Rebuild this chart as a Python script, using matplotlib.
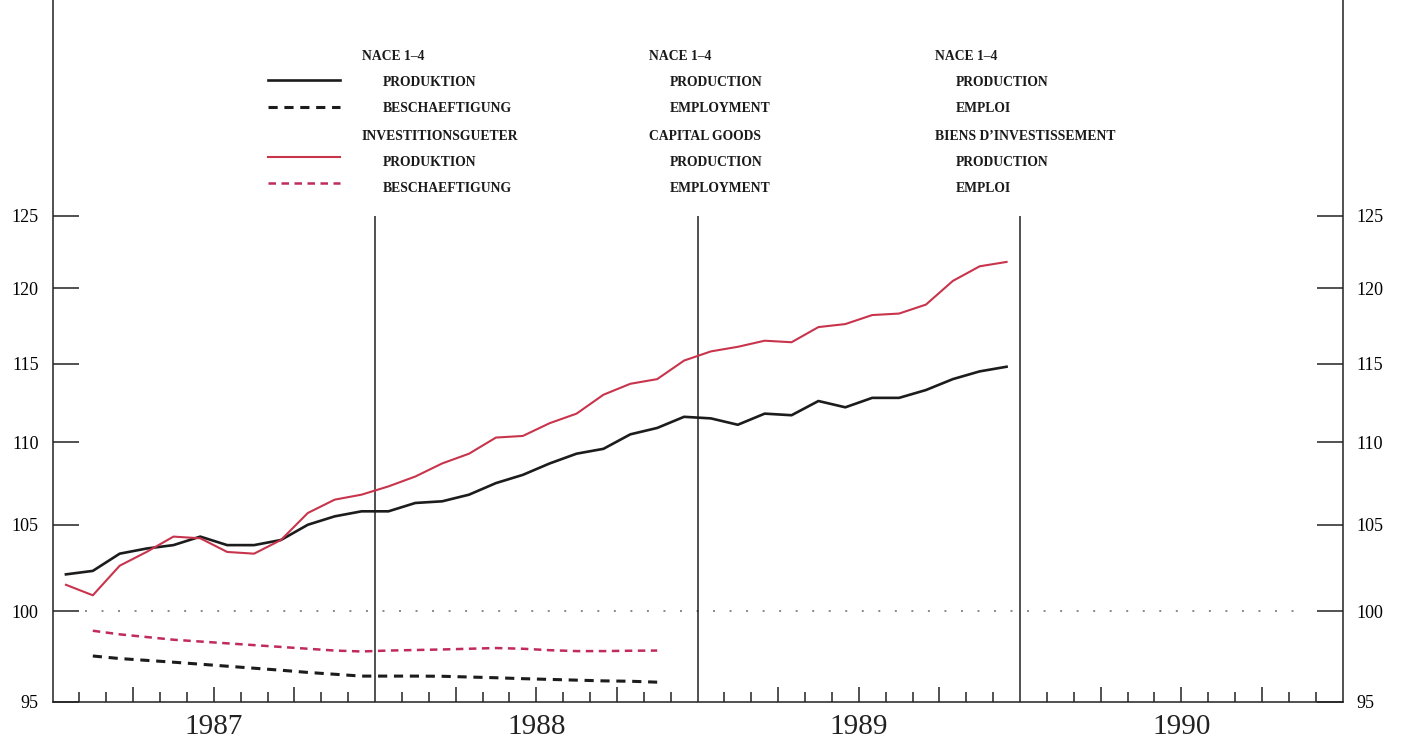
import numpy as np
import matplotlib
matplotlib.use('Agg')
import matplotlib.pyplot as plt
from matplotlib import font_manager
from matplotlib.ticker import FixedLocator, NullFormatter

# monthly indices, Jan 1987 = 0
prod_nace = [102.1, 102.3, 103.3, 103.6, 103.8, 104.3, 103.8, 103.8, 104.1, 105.0, 105.5, 105.8,
             105.8, 106.3, 106.4, 106.8, 107.5, 108.0, 108.7, 109.3, 109.6, 110.5, 110.9, 111.6,
             111.5, 111.1, 111.8, 111.7, 112.6, 112.2, 112.8, 112.8, 113.3, 114.0, 114.5, 114.8]
prod_cap = [101.5, 100.9, 102.6, 103.4, 104.3, 104.2, 103.4, 103.3, 104.1, 105.7, 106.5, 106.8,
            107.3, 107.9, 108.7, 109.3, 110.3, 110.4, 111.2, 111.8, 113.0, 113.7, 114.0, 115.2,
            115.8, 116.1, 116.5, 116.4, 117.4, 117.6, 118.2, 118.3, 118.9, 120.5, 121.5, 121.8]
# employment starts Feb 1987
emp_nace = [97.5, 97.36, 97.26, 97.16, 97.05, 96.94, 96.83, 96.72, 96.6, 96.5, 96.4,
            96.4, 96.4, 96.39, 96.35, 96.31, 96.26, 96.22, 96.18, 96.14, 96.12, 96.07]
emp_cap = [98.9, 98.7, 98.55, 98.4, 98.3, 98.2, 98.1, 98.0, 97.9, 97.8, 97.75,
           97.8, 97.83, 97.86, 97.9, 97.94, 97.9, 97.82, 97.77, 97.77, 97.79, 97.8]

years = ['1987', '1988', '1989', '1990']
yticks = [95, 100, 105, 110, 115, 120, 125]

col_de = ['NACE 1–4', 'PRODUKTION', 'BESCHAEFTIGUNG', 'INVESTITIONSGUETER', 'PRODUKTION', 'BESCHAEFTIGUNG']
col_en = ['NACE 1–4', 'PRODUCTION', 'EMPLOYMENT', 'CAPITAL GOODS', 'PRODUCTION', 'EMPLOYMENT']
col_fr = ['NACE 1–4', 'PRODUCTION', 'EMPLOI', 'BIENS D’INVESTISSEMENT', 'PRODUCTION', 'EMPLOI']

BLACK = '#1c1c1c'
RED = '#c8344c'
RED_D = '#c02a5c'

# legend font: condensed serif if we have one
cond = [f for f in font_manager.fontManager.ttflist
        if f.name == 'DejaVu Serif' and f.stretch == 'condensed' and f.weight == 'bold']
if cond:
    legend_font = dict(family='DejaVu Serif', stretch='condensed', fontsize=10, fontweight='bold')
else:
    legend_font = dict(family='Liberation Serif', fontsize=9.8, fontweight='bold')

W, H = 1402, 740
fig = plt.figure(figsize=(W / 100, H / 100), dpi=100)
ax = fig.add_axes([52.5 / W, 38 / H, 1290 / W, 702 / H])

ax.set_yscale('log')
ax.set_xlim(0, 48)
top = 125 * np.exp(216 / 486 * np.log(125 / 95))
ax.set_ylim(95, top)

x_prod = np.arange(len(prod_nace)) + 0.5
x_emp = np.arange(len(emp_nace)) + 1.5

ax.plot(x_prod, prod_nace, color=BLACK, lw=1.9, zorder=5)
ax.plot(x_prod, prod_cap, color=RED, lw=1.5, zorder=5)
ax.plot(x_emp, emp_nace, color=BLACK, lw=2.2, ls=(0, (3, 2.2)), zorder=5)
ax.plot(x_emp, emp_cap, color=RED_D, lw=1.8, ls=(0, (3, 2.2)), zorder=5)

# reference line at 100 and year boundaries
ax.hlines(100, 1.2, 46.7, color='#888888', lw=1.4, ls=(0, (1, 7.5)))
ax.vlines([12, 24, 36], 95, 125, color='#222222', lw=1.1)

# axes frame
ax.spines['top'].set_visible(False)
for s in ['left', 'right', 'bottom']:
    ax.spines[s].set_linewidth(1.1)
    ax.spines[s].set_color('#222222')

ax.yaxis.set_major_locator(FixedLocator(yticks))
ax.yaxis.set_minor_locator(FixedLocator([]))
ax.yaxis.set_minor_formatter(NullFormatter())
ax.set_yticklabels([str(v) for v in yticks])
ax.tick_params(axis='y', which='major', direction='in', length=19, width=1.1,
               left=True, right=True, labelleft=True, labelright=True, pad=10,
               labelsize=13, color='#222222')
for lab in ax.get_yticklabels():
    lab.set_family('Liberation Serif')

quarters = [q for q in range(3, 48, 3) if q % 12 != 0]
months = [m for m in range(1, 48) if m % 3 != 0]
ax.xaxis.set_major_locator(FixedLocator(quarters))
ax.xaxis.set_minor_locator(FixedLocator(months))
ax.xaxis.set_major_formatter(NullFormatter())
ax.tick_params(axis='x', which='major', direction='in', length=11, width=1.1, color='#222222')
ax.tick_params(axis='x', which='minor', direction='in', length=7, width=1.1, color='#222222')

for i, yr in enumerate(years):
    ax.text(12 * i + 6, -0.036, yr, transform=ax.get_xaxis_transform(), ha='center', va='center',
            fontsize=21, family='Liberation Serif', color='#222222')

# legend block
def px(x, y):
    return x / W, 1 - y / H

samples = [(80, BLACK, 1.9, '-'), (107, BLACK, 2.2, (0, (3, 2.2))),
           (157, RED, 1.5, '-'), (183, RED_D, 1.8, (0, (3, 2.2)))]
for yy, c, lw, ls in samples:
    x0, y0 = px(268, yy)
    x1, _ = px(340, yy)
    fig.add_artist(plt.Line2D([x0, x1], [y0, y0], color=c, lw=lw, ls=ls, transform=fig.transFigure))

rows_y = [57, 83, 109, 136, 162, 188]
for col, xh in zip([col_de, col_en, col_fr], [362, 649, 935]):
    for j, (txt, yy) in enumerate(zip(col, rows_y)):
        xx = xh if j in (0, 3) else xh + 21
        fx, fy = px(xx, yy)
        fig.text(fx, fy, txt, ha='left', va='center', color='#1a1a1a', **legend_font)

fig.savefig('out.png', dpi=100, facecolor='white')
